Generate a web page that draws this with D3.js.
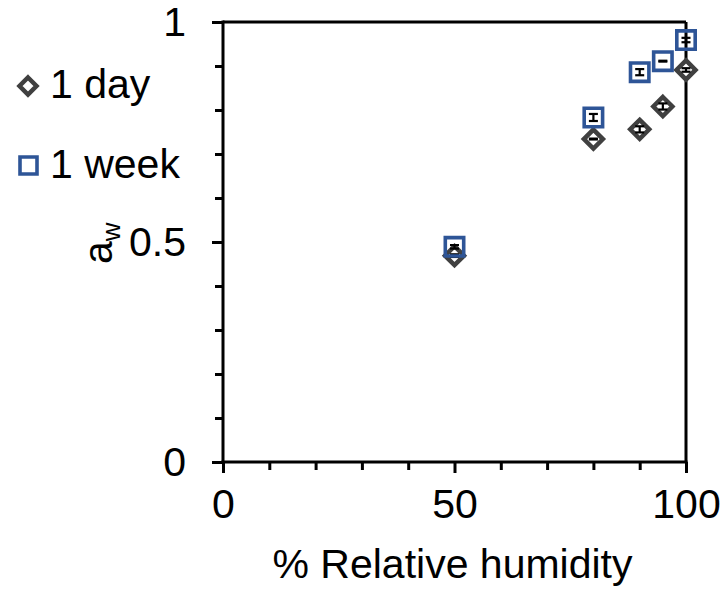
<!DOCTYPE html>
<html>
<head>
<meta charset="utf-8">
<script src="https://cdn.jsdelivr.net/npm/d3@7/dist/d3.min.js"></script>
<style>
  html, body { margin: 0; padding: 0; background: #fff; }
  svg text { font-family: "Liberation Sans", Arial, sans-serif; fill: #000; }
</style>
</head>
<body>
<svg id="chart" width="726" height="591"></svg>
<script>
// ---- data ----
const humidity = [50, 80, 90, 95, 100];
const dayValues = [0.469, 0.734, 0.756, 0.808, 0.891];
const dayErrors = [0.003, 0.001, 0.007, 0.007, 0.004];
const weekValues = [0.489, 0.783, 0.886, 0.911, 0.959];
const weekErrors = [0.004, 0.008, 0.007, 0.001, 0.005];
const seriesNames = ["1 day", "1 week"];
const xMajorTicks = [0, 50, 100];
const xMinorTicks = [10, 20, 30, 40, 60, 70, 80, 90];
const yMajorTicks = [0, 0.5, 1];
const yMinorTicks = [0.1, 0.2, 0.3, 0.4, 0.6, 0.7, 0.8, 0.9];
const xTitle = "% Relative humidity";

// ---- layout ----
const svg = d3.select("#chart");
const pLeft = 223, pRight = 686, pTop = 22, pBottom = 462;
const x = d3.scaleLinear().domain([0, 100]).range([pLeft, pRight]);
const y = d3.scaleLinear().domain([0, 1]).range([pBottom, pTop]);
const FONT = 41;
const dayColor = "#404040", weekColor = "#2E5597";

// frame (top and right)
svg.append("line").attr("x1", pLeft).attr("x2", pRight).attr("y1", pTop).attr("y2", pTop)
  .attr("stroke", "#000").attr("stroke-width", 3);
svg.append("line").attr("x1", pRight).attr("x2", pRight).attr("y1", pTop).attr("y2", pBottom)
  .attr("stroke", "#000").attr("stroke-width", 3);

// minor axes
const xMinor = svg.append("g").attr("transform", `translate(0,${pBottom})`)
  .call(d3.axisBottom(x).tickValues(xMinorTicks).tickSize(8).tickFormat(""));
const yMinor = svg.append("g").attr("transform", `translate(${pLeft},0)`)
  .call(d3.axisLeft(y).tickValues(yMinorTicks).tickSize(8).tickFormat(""));
[xMinor, yMinor].forEach(g => {
  g.select(".domain").remove();
  g.selectAll(".tick line").attr("stroke", "#000").attr("stroke-width", 3);
});

// major axes
const xAxis = svg.append("g").attr("transform", `translate(0,${pBottom})`)
  .call(d3.axisBottom(x).tickValues(xMajorTicks).tickSize(11).tickSizeOuter(0).tickPadding(16).tickFormat(d3.format("d")));
const yAxis = svg.append("g").attr("transform", `translate(${pLeft},0)`)
  .call(d3.axisLeft(y).tickValues(yMajorTicks).tickSize(11).tickSizeOuter(0).tickPadding(26).tickFormat(d => d === 0.5 ? "0.5" : d3.format("d")(d)));
[xAxis, yAxis].forEach(g => {
  g.select(".domain").attr("stroke", "#000").attr("stroke-width", 3);
  g.selectAll(".tick line").attr("stroke", "#000").attr("stroke-width", 3);
  g.selectAll(".tick text").attr("font-size", FONT).attr("font-family", "Liberation Sans, Arial, sans-serif").attr("fill", "#000");
});
xAxis.select(".domain").attr("d", `M${pLeft - 1.5},0H${pRight + 1.5}`);
yAxis.select(".domain").attr("d", `M0,${pBottom + 1.5}V${pTop - 1.5}`);

// axis titles
svg.append("text").attr("x", (pLeft + pRight) / 2 - 2).attr("y", 578)
  .attr("text-anchor", "middle").attr("font-size", FONT).text(xTitle);
const yt = svg.append("text").attr("transform", "translate(112,264) rotate(-90)")
  .attr("text-anchor", "start").attr("font-size", FONT);
yt.append("tspan").text("a");
yt.append("tspan").attr("font-size", 26).attr("dy", 8).text("w");

// ---- data marks ----
const dayData = humidity.map((h, i) => ({ x: h, y: dayValues[i], e: dayErrors[i] }));
const weekData = humidity.map((h, i) => ({ x: h, y: weekValues[i], e: weekErrors[i] }));

function errorBars(data) {
  const g = svg.append("g").attr("stroke", "#000").attr("stroke-width", 2.2);
  data.forEach(d => {
    const cx = x(d.x), y1 = y(d.y - d.e), y2 = y(d.y + d.e);
    g.append("line").attr("x1", cx).attr("x2", cx).attr("y1", y1).attr("y2", y2);
    g.append("line").attr("x1", cx - 4.5).attr("x2", cx + 4.5).attr("y1", y1).attr("y2", y1);
    g.append("line").attr("x1", cx - 4.5).attr("x2", cx + 4.5).attr("y1", y2).attr("y2", y2);
  });
}

const diamondPath = r => `M0,${-r}L${r},0L0,${r}L${-r},0Z`;
const squarePath = s => `M${-s},${-s}H${s}V${s}H${-s}Z`;

// day series (diamonds)
svg.append("g").selectAll("path").data(dayData).join("path")
  .attr("transform", d => `translate(${x(d.x)},${y(d.y)})`)
  .attr("d", diamondPath(9.5)).attr("fill", "#fff")
  .attr("stroke", dayColor).attr("stroke-width", 4.5).attr("stroke-linejoin", "miter");
errorBars(dayData);

// week series (squares)
svg.append("g").selectAll("path").data(weekData).join("path")
  .attr("transform", d => `translate(${x(d.x)},${y(d.y)})`)
  .attr("d", squarePath(9.2)).attr("fill", "none")
  .attr("stroke", weekColor).attr("stroke-width", 3.6);
errorBars(weekData);

// ---- legend ----
const legend = svg.append("g");
legend.append("path").attr("transform", "translate(28,86)").attr("d", diamondPath(8.5))
  .attr("fill", "#fff").attr("stroke", dayColor).attr("stroke-width", 4.5);
legend.append("text").attr("x", 50).attr("y", 98).attr("font-size", FONT).text(seriesNames[0]);
legend.append("path").attr("transform", "translate(28.5,165.5)").attr("d", squarePath(8.5))
  .attr("fill", "#fff").attr("stroke", weekColor).attr("stroke-width", 3.6);
legend.append("text").attr("x", 50).attr("y", 178).attr("font-size", FONT).text(seriesNames[1]);
</script>
</body>
</html>
